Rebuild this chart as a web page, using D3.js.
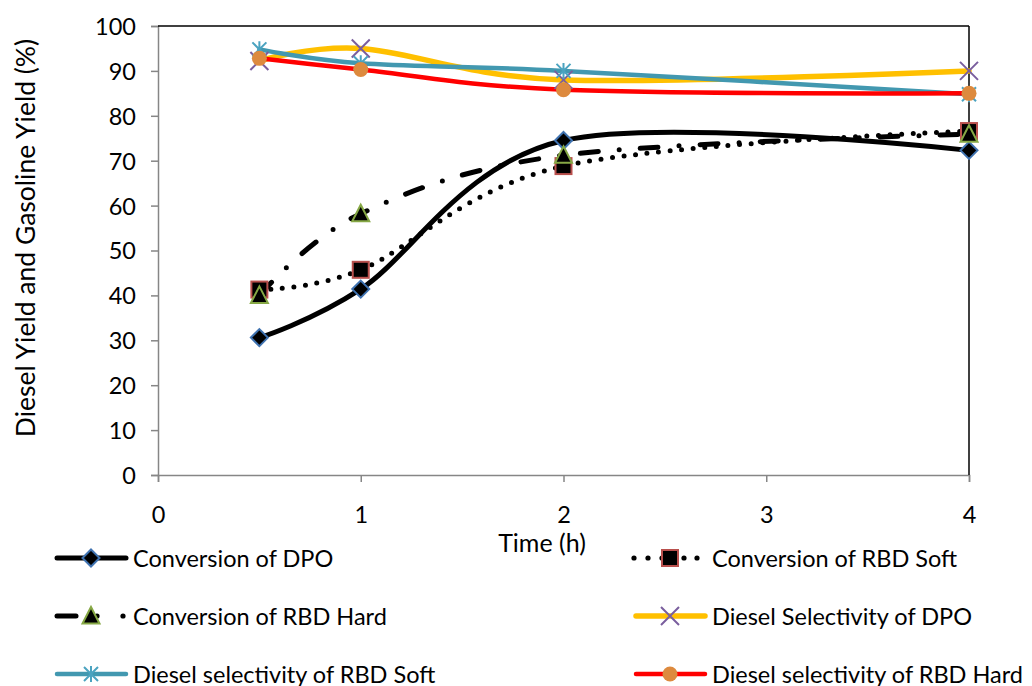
<!DOCTYPE html>
<html>
<head>
<meta charset="utf-8">
<script src="https://cdn.jsdelivr.net/npm/d3@7"></script>
<style>
  html, body { margin: 0; padding: 0; background: #fff; }
  svg { display: block; font-family: Lato, "Open Sans", sans-serif; }
</style>
</head>
<body>
<svg id="chart" width="1032" height="686"></svg>
<script>
// Reaction time (h)
const times = [0.5, 1, 2, 4];

// Conversion (%) and diesel selectivity (%) per feedstock
const convDPO      = [30.6, 41.4, 74.5, 72.3];
const convRBDSoft  = [41.3, 45.7, 68.8, 76.6];
const convRBDHard  = [40.0, 58.2, 71.2, 75.9];
const selDPO       = [92.2, 95.0, 88.0, 90.0];
const selRBDSoft   = [94.8, 91.7, 90.0, 84.8];
const selRBDHard   = [92.8, 90.3, 85.8, 85.0];

const seriesNames = [
  "Conversion of DPO",
  "Conversion of RBD Soft",
  "Conversion of RBD Hard",
  "Diesel Selectivity of DPO",
  "Diesel selectivity of RBD Soft",
  "Diesel selectivity of RBD Hard"
];

const xTicks = [0, 1, 2, 3, 4];
const yTicks = [0, 10, 20, 30, 40, 50, 60, 70, 80, 90, 100];
const xTitle = "Time (h)";
const yTitle = "Diesel Yield and Gasoline Yield (%)";

const svg = d3.select("#chart");
const plotL = 158, plotR = 969, plotT = 26, plotB = 475;
const FONT = "Lato, 'Open Sans', sans-serif";

const x = d3.scaleLinear().domain([0, 4]).range([plotL, plotR]);
const y = d3.scaleLinear().domain([0, 100]).range([plotB, plotT]);

// series styling
const styles = [
  { line: "#000", width: 5, dash: null, marker: "diamond", fill: "#000", stroke: "#3F72B0" },
  { line: "#000", width: 5, dash: "0 11.6", marker: "square", fill: "#000", stroke: "#B9504D" },
  { line: "#000", width: 5, dash: "18 21 0 21", marker: "triangle", fill: "#000", stroke: "#86A845" },
  { line: "#FFC000", width: 5.5, dash: null, marker: "cross", fill: "none", stroke: "#7A5E9E" },
  { line: "#4298B0", width: 4.5, dash: null, marker: "asterisk", fill: "none", stroke: "#4BA3C0" },
  { line: "#FF0000", width: 4.5, dash: null, marker: "circle", fill: "#DD8A3E", stroke: "#DD8A3E" }
];
const values = [convDPO, convRBDSoft, convRBDHard, selDPO, selRBDSoft, selRBDHard];

// axes
const g = svg.append("g");
const yAxis = d3.axisLeft(y).tickValues(yTicks).tickSize(7);
const yG = g.append("g").attr("transform", `translate(${plotL},0)`).call(yAxis);
yG.select(".domain").attr("stroke", "#868686").attr("stroke-width", 1.5);
yG.selectAll(".tick line").attr("stroke", "#868686").attr("stroke-width", 1.5);
yG.selectAll(".tick text").attr("font-size", 23.5).attr("fill", "#000")
  .attr("font-family", FONT).attr("x", -22).attr("dy", "0.36em");

const xAxis = d3.axisBottom(x).tickValues(xTicks).tickSize(7).tickFormat(d3.format("d"));
const xG = g.append("g").attr("transform", `translate(0,${plotB})`).call(xAxis);
xG.select(".domain").attr("stroke", "#868686").attr("stroke-width", 1.5);
xG.selectAll(".tick line").attr("stroke", "#868686").attr("stroke-width", 1.5);
xG.selectAll(".tick text").attr("font-size", 23.5).attr("fill", "#000")
  .attr("font-family", FONT).attr("y", 48).attr("dy", 0);

// top and right frame
g.append("line").attr("x1", plotL).attr("x2", plotR).attr("y1", plotT).attr("y2", plotT)
  .attr("stroke", "#000").attr("stroke-width", 1.5);
g.append("line").attr("x1", plotR).attr("x2", plotR).attr("y1", plotT).attr("y2", plotB)
  .attr("stroke", "#000").attr("stroke-width", 1.5);

svg.append("text").attr("x", 542).attr("y", 552).attr("text-anchor", "middle")
  .attr("font-size", 25).text(xTitle);
svg.append("text").attr("transform", "translate(35,238) rotate(-90)")
  .attr("text-anchor", "middle").attr("font-size", 26.5).text(yTitle);

// smoothed lines
const lineGen = d3.line().x(d => x(d[0])).y(d => y(d[1])).curve(d3.curveCardinal.tension(0));
values.forEach((vals, i) => {
  const s = styles[i];
  svg.append("path")
    .datum(times.map((t, j) => [t, vals[j]]))
    .attr("d", lineGen)
    .attr("fill", "none")
    .attr("stroke", s.line)
    .attr("stroke-width", s.width)
    .attr("stroke-linecap", "round")
    .attr("stroke-dasharray", s.dash);
});

function drawMarker(sel, type, cx, cy, s) {
  const m = sel.append("g").attr("transform", `translate(${cx},${cy})`);
  if (type === "diamond") {
    m.append("path").attr("d", "M0,-8.5L8.5,0L0,8.5L-8.5,0Z")
      .attr("fill", s.fill).attr("stroke", s.stroke).attr("stroke-width", 2);
  } else if (type === "square") {
    m.append("rect").attr("x", -8).attr("y", -8).attr("width", 16).attr("height", 16)
      .attr("fill", s.fill).attr("stroke", s.stroke).attr("stroke-width", 2);
  } else if (type === "triangle") {
    m.append("path").attr("d", "M0,-9L8.5,7.5L-8.5,7.5Z")
      .attr("fill", s.fill).attr("stroke", s.stroke).attr("stroke-width", 2);
  } else if (type === "cross") {
    m.append("path").attr("d", "M-9,-9L9,9M-9,9L9,-9")
      .attr("stroke", s.stroke).attr("stroke-width", 2);
  } else if (type === "asterisk") {
    m.append("path").attr("d", "M-7,-7L7,7M-7,7L7,-7M0,-8L0,8")
      .attr("stroke", s.stroke).attr("stroke-width", 2);
  } else if (type === "circle") {
    m.append("circle").attr("r", 7.5).attr("fill", s.fill);
  }
}

const markers = svg.append("g");
values.forEach((vals, i) => {
  times.forEach((t, j) => drawMarker(markers, styles[i].marker, x(t), y(vals[j]), styles[i]));
});

// legend: two columns, three rows
const legend = svg.append("g");
seriesNames.forEach((name, i) => {
  const col = i % 2, row = Math.floor(i / 2);
  const lx = col === 0 ? 55 : 634;
  const ly = 558 + row * 58;
  const s = styles[i];
  const lg = legend.append("g");
  if (i === 2) {
    lg.append("line").attr("x1", 57).attr("x2", 76).attr("y1", ly).attr("y2", ly)
      .attr("stroke", "#000").attr("stroke-width", 5).attr("stroke-linecap", "round");
    [97, 123].forEach(dx => lg.append("circle").attr("cx", dx).attr("cy", ly).attr("r", 2.6).attr("fill", "#000"));
  } else if (i === 1) {
    [0, 14, 28, 50, 63].forEach(dx => lg.append("circle").attr("cx", lx + dx).attr("cy", ly).attr("r", 2.6).attr("fill", "#000"));
  } else {
    lg.append("line").attr("x1", lx + 2).attr("x2", lx + 71).attr("y1", ly).attr("y2", ly)
      .attr("stroke", s.line).attr("stroke-width", s.width).attr("stroke-linecap", "round");
  }
  drawMarker(lg, s.marker, col === 0 ? 91 : 670, ly, s);
  lg.append("text").attr("x", col === 0 ? 133 : 712).attr("y", ly + 8.5)
    .attr("font-size", 23.5).text(name);
});
</script>
</body>
</html>
